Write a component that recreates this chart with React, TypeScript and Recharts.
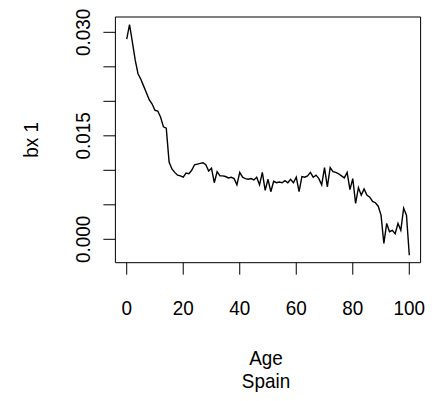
import React from 'react';
import { LineChart, Line, XAxis, YAxis, ReferenceArea, Label } from 'recharts';

const ages = [
  0, 1, 2, 3, 4, 5, 6, 7, 8, 9, 10, 11, 12, 13, 14, 15, 16, 17, 18, 19, 20,
  21, 22, 23, 24, 25, 26, 27, 28, 29, 30, 31, 32, 33, 34, 35, 36, 37, 38, 39, 40,
  41, 42, 43, 44, 45, 46, 47, 48, 49, 50, 51, 52, 53, 54, 55, 56, 57, 58, 59, 60,
  61, 62, 63, 64, 65, 66, 67, 68, 69, 70, 71, 72, 73, 74, 75, 76, 77, 78, 79, 80,
  81, 82, 83, 84, 85, 86, 87, 88, 89, 90, 91, 92, 93, 94, 95, 96, 97, 98, 99, 100,
];

const bx1 = [
  0.029, 0.0311, 0.0286, 0.026, 0.024, 0.0232, 0.0222, 0.0212, 0.0202, 0.0196, 0.0187,
  0.0186, 0.0177, 0.0163, 0.0161, 0.0112, 0.0102, 0.0097, 0.0093, 0.0092, 0.009,
  0.0096, 0.0095, 0.01, 0.0108, 0.0109, 0.011, 0.0111, 0.0108, 0.0099, 0.0103,
  0.0082, 0.0098, 0.0092, 0.0092, 0.0091, 0.0089, 0.009, 0.0088, 0.0079, 0.0097,
  0.009, 0.0088, 0.0087, 0.0088, 0.0086, 0.009, 0.0079, 0.0097, 0.0071, 0.0087,
  0.0069, 0.0084, 0.0082, 0.0083, 0.0082, 0.0085, 0.0082, 0.0087, 0.0082, 0.009,
  0.0069, 0.0091, 0.009, 0.0092, 0.0097, 0.009, 0.0093, 0.0088, 0.0079, 0.0104,
  0.0076, 0.0104, 0.0098, 0.0097, 0.0095, 0.0092, 0.0089, 0.0097, 0.0072, 0.0088,
  0.0052, 0.0075, 0.0064, 0.0073, 0.0064, 0.0061, 0.0055, 0.0053, 0.0048, 0.0035,
  -0.0006, 0.0023, 0.0011, 0.0013, 0.0008, 0.0023, 0.0013, 0.0045, 0.0035, -0.0023,
];

const xTicks = [0, 20, 40, 60, 80, 100];
const yTicks = [0, 0.005, 0.01, 0.015, 0.02, 0.025, 0.03];
const yLabels: Record<number, string> = { 0: '0.000', 0.015: '0.015', 0.03: '0.030' };

const X_DOMAIN: [number, number] = [-4, 104];
const Y_DOMAIN: [number, number] = [-0.00339, 0.03222];

const FONT = '"Liberation Sans", Arial, sans-serif';
const SQUEEZE = 0.9; // R's png font is a bit narrower than Liberation Sans

const data = ages.map((age, i) => ({ age, value: bx1[i] }));

// text squeezed along its own baseline, optionally rotated
function RText({ x, y, rotate = 0, children }: any) {
  return (
    <text
      x={0}
      y={0}
      transform={`translate(${x}, ${y}) rotate(${rotate}) scale(${SQUEEZE}, 1)`}
      textAnchor="middle"
      fontFamily={FONT}
      fontSize={21}
      fill="#000"
    >
      {children}
    </text>
  );
}

function XTick({ x, y, payload }: any) {
  return <RText x={x} y={y + 38}>{payload.value}</RText>;
}

function YTick({ x, y, payload }: any) {
  const label = yLabels[payload.value];
  if (!label) return null;
  return <RText x={x - 11} y={y} rotate={-90}>{label}</RText>;
}

function XTitle({ viewBox }: any) {
  const cx = viewBox.x + viewBox.width / 2 - 2;
  return (
    <g>
      <RText x={cx} y={365}>Age</RText>
      <RText x={cx} y={388}>Spain</RText>
    </g>
  );
}

function YTitle({ viewBox }: any) {
  const cy = viewBox.y + viewBox.height / 2;
  return <RText x={38} y={cy} rotate={-90}>bx 1</RText>;
}

export default function App() {
  return (
    <div style={{ position: 'absolute', left: 0, top: 0, background: '#fff' }}>
      <LineChart width={441} height={401} data={data} margin={{ top: 17, right: 20.4, bottom: 88.3, left: 15.4 }}>
        <XAxis
          dataKey="age"
          type="number"
          domain={X_DOMAIN}
          ticks={xTicks}
          axisLine={false}
          tickLine={{ stroke: '#000', strokeWidth: 1 }}
          tickSize={12}
          tick={<XTick />}
          height={50}
          allowDataOverflow
        >
          <Label content={<XTitle />} />
        </XAxis>
        <YAxis
          type="number"
          domain={Y_DOMAIN}
          ticks={yTicks}
          axisLine={false}
          tickLine={{ stroke: '#000', strokeWidth: 1 }}
          tickSize={12}
          tick={<YTick />}
          width={100}
          allowDataOverflow
        >
          <Label content={<YTitle />} />
        </YAxis>
        <ReferenceArea x1={X_DOMAIN[0]} x2={X_DOMAIN[1]} y1={Y_DOMAIN[0]} y2={Y_DOMAIN[1]} fill="none" stroke="#000" strokeWidth={1} fillOpacity={0} ifOverflow="visible" />
        <Line dataKey="value" stroke="#000" strokeWidth={1.4} dot={false} isAnimationActive={false} type="linear" />
      </LineChart>
    </div>
  );
}
